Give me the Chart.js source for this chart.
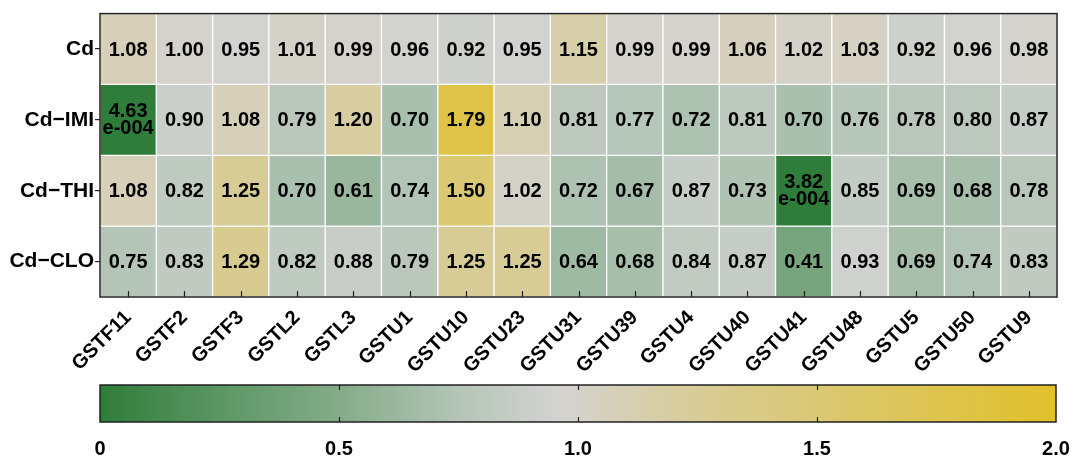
<!DOCTYPE html>
<html>
<head>
<meta charset="utf-8">
<script src="https://cdn.jsdelivr.net/npm/chart.js@4.4.1/dist/chart.umd.min.js"></script>
<style>
  html, body { margin: 0; padding: 0; background: #fff; }
  #wrap { position: relative; width: 1077px; height: 466px; }
  #heat { position: absolute; left: 0; top: 0; }
  #bar  { position: absolute; left: 0; top: 380px; }
</style>
</head>
<body>
<div id="wrap">
  <canvas id="heat" width="1077" height="380"></canvas>
  <canvas id="bar" width="1077" height="86"></canvas>
</div>
<script>
// Genes along the x axis
const genes = ['GSTF11','GSTF2','GSTF3','GSTL2','GSTL3','GSTU1','GSTU10','GSTU23','GSTU31',
               'GSTU39','GSTU4','GSTU40','GSTU41','GSTU48','GSTU5','GSTU50','GSTU9'];
// Treatments, top to bottom
const treatments = ['Cd', 'Cd\u2212IMI', 'Cd\u2212THI', 'Cd\u2212CLO'];
// Relative expression per treatment
const cdValues  = [1.08, 1.00, 0.95, 1.01, 0.99, 0.96, 0.92, 0.95, 1.15, 0.99, 0.99, 1.06, 1.02, 1.03, 0.92, 0.96, 0.98];
const imiValues = [4.63e-4, 0.90, 1.08, 0.79, 1.20, 0.70, 1.79, 1.10, 0.81, 0.77, 0.72, 0.81, 0.70, 0.76, 0.78, 0.80, 0.87];
const thiValues = [1.08, 0.82, 1.25, 0.70, 0.61, 0.74, 1.50, 1.02, 0.72, 0.67, 0.87, 0.73, 3.82e-4, 0.85, 0.69, 0.68, 0.78];
const cloValues = [0.75, 0.83, 1.29, 0.82, 0.88, 0.79, 1.25, 1.25, 0.64, 0.68, 0.84, 0.87, 0.41, 0.93, 0.69, 0.74, 0.83];
const seriesValues = [cdValues, imiValues, thiValues, cloValues];
// Colour bar range and ticks
const scaleMin = 0;
const scaleMax = 2;
const colorbarTicks = [0, 0.5, 1.0, 1.5, 2.0];

// Colour map: green -> light grey -> yellow
const colorStops = [
  [0.00, [46, 125, 58]],
  [0.25, [92, 150, 100]],
  [0.50, [132, 172, 137]],
  [0.75, [180, 197, 183]],
  [0.95, [210, 210, 208]],
  [1.00, [212, 210, 202]],
  [1.10, [214, 207, 180]],
  [1.25, [216, 204, 150]],
  [1.50, [218, 200, 115]],
  [1.75, [221, 196, 78]],
  [2.00, [225, 192, 42]]
];
function colorFor(v) {
  v = Math.max(scaleMin, Math.min(scaleMax, v));
  for (let i = 1; i < colorStops.length; i++) {
    const [v1, c1] = colorStops[i];
    const [v0, c0] = colorStops[i - 1];
    if (v <= v1) {
      const t = (v - v0) / (v1 - v0);
      const c = c0.map((a, k) => Math.round(a + (c1[k] - a) * t));
      return `rgb(${c[0]},${c[1]},${c[2]})`;
    }
  }
  const c = colorStops[colorStops.length - 1][1];
  return `rgb(${c[0]},${c[1]},${c[2]})`;
}

function formatValue(v) {
  if (v < 0.01) {
    const [m, e] = v.toExponential(2).split('e');
    const exp = parseInt(e, 10);
    return [m, 'e' + (exp < 0 ? '-' : '+') + String(Math.abs(exp)).padStart(3, '0')];
  }
  return [v.toFixed(2)];
}

const FONT = "'Liberation Sans', Arial, Helvetica, sans-serif";

// Frame, inward x ticks and cell value labels
const heatDecor = {
  id: 'heatDecor',
  afterDatasetsDraw(chart) {
    const ctx = chart.ctx;
    const area = chart.chartArea;
    const xs = chart.scales.x;
    ctx.save();
    // cell labels
    ctx.fillStyle = '#000';
    ctx.textAlign = 'center';
    ctx.textBaseline = 'middle';
    ctx.font = `bold 20px ${FONT}`;
    chart.data.datasets.forEach((ds, di) => {
      const meta = chart.getDatasetMeta(di);
      meta.data.forEach((el, i) => {
        const cx = el.x;
        const cy = (el.y + el.base) / 2;
        const lines = formatValue(seriesValues[di][i]);
        if (lines.length === 1) {
          ctx.fillText(lines[0], cx, cy + 1);
        } else {
          ctx.fillText(lines[0], cx, cy - 8);
          ctx.fillText(lines[1], cx, cy + 9);
        }
      });
    });
    // inward tick marks on the bottom axis
    ctx.strokeStyle = '#222';
    ctx.lineWidth = 1.2;
    genes.forEach((g, i) => {
      const x = Math.round(xs.getPixelForValue(i)) + 0.5;
      ctx.beginPath();
      ctx.moveTo(x, area.bottom);
      ctx.lineTo(x, area.bottom - 6);
      ctx.stroke();
    });
    // frame
    ctx.strokeStyle = '#222';
    ctx.lineWidth = 1.5;
    ctx.strokeRect(area.left, area.top, area.right - area.left, area.bottom - area.top);
    ctx.restore();
  }
};

new Chart(document.getElementById('heat'), {
  type: 'bar',
  data: {
    labels: genes,
    datasets: treatments.map((t, r) => ({
      label: t,
      data: genes.map(() => [r, r + 1]),
      backgroundColor: seriesValues[r].map(colorFor),
      borderColor: '#ffffff',
      borderWidth: 1,
      borderSkipped: false,
      grouped: false,
      barPercentage: 1,
      categoryPercentage: 1
    }))
  },
  options: {
    responsive: false,
    animation: false,
    events: [],
    layout: { padding: { top: 10, right: 20, left: 0, bottom: 0 } },
    plugins: { legend: { display: false }, tooltip: { enabled: false } },
    scales: {
      x: {
        type: 'category',
        offset: true,
        grid: { display: false, drawTicks: false },
        border: { display: false },
        ticks: {
          color: '#000',
          font: { family: FONT, size: 20, weight: 'bold' },
          maxRotation: 45, minRotation: 45,
          autoSkip: false,
          padding: 9
        },
        afterFit(scale) { scale.height = 83; }
      },
      y: {
        type: 'linear',
        min: 0, max: treatments.length,
        reverse: true,
        afterBuildTicks(scale) {
          scale.ticks = treatments.map((t, i) => ({ value: i + 0.5 }));
        },
        grid: { drawOnChartArea: false, drawTicks: true, tickLength: 5, color: '#222', lineWidth: 1.2 },
        border: { display: false },
        ticks: {
          color: '#000',
          font: { family: FONT, size: 21, weight: 'bold' },
          padding: 1,
          callback: (v, i) => treatments[i]
        },
        afterFit(scale) { scale.width = 100; }
      }
    }
  },
  plugins: [heatDecor]
});

// Colour bar
const barDecor = {
  id: 'barDecor',
  afterDatasetsDraw(chart) {
    const ctx = chart.ctx;
    const area = chart.chartArea;
    const xs = chart.scales.x;
    ctx.save();
    ctx.strokeStyle = '#222';
    ctx.lineWidth = 1.2;
    colorbarTicks.slice(1, -1).forEach(v => {
      const x = Math.round(xs.getPixelForValue(v)) + 0.5;
      ctx.beginPath();
      ctx.moveTo(x, area.top); ctx.lineTo(x, area.top + 5);
      ctx.moveTo(x, area.bottom); ctx.lineTo(x, area.bottom - 5);
      ctx.stroke();
    });
    ctx.lineWidth = 1.5;
    ctx.strokeRect(area.left, area.top, area.right - area.left, area.bottom - area.top);
    ctx.restore();
  }
};

new Chart(document.getElementById('bar'), {
  type: 'bar',
  data: {
    labels: ['scale'],
    datasets: [{
      data: [[scaleMin, scaleMax]],
      backgroundColor(context) {
        const chart = context.chart;
        const area = chart.chartArea;
        if (!area) return '#ccc';
        const g = chart.ctx.createLinearGradient(area.left, 0, area.right, 0);
        colorStops.forEach(([v]) => g.addColorStop((v - scaleMin) / (scaleMax - scaleMin), colorFor(v)));
        return g;
      },
      borderWidth: 0,
      barPercentage: 1,
      categoryPercentage: 1
    }]
  },
  options: {
    indexAxis: 'y',
    responsive: false,
    animation: false,
    events: [],
    layout: { padding: { top: 5, left: 100, right: 21, bottom: 0 } },
    plugins: { legend: { display: false }, tooltip: { enabled: false } },
    scales: {
      x: {
        type: 'linear',
        min: scaleMin, max: scaleMax,
        afterBuildTicks(scale) {
          scale.ticks = colorbarTicks.map(v => ({ value: v }));
        },
        grid: { display: false, drawTicks: false },
        border: { display: false },
        ticks: {
          color: '#000',
          font: { family: FONT, size: 20, weight: 'bold' },
          padding: 15,
          maxRotation: 0,
          callback: v => (v === 0 ? '0' : v.toFixed(1))
        },
        afterFit(scale) {
          scale.height = 44;
          scale.paddingLeft = 0;
          scale.paddingRight = 0;
        }
      },
      y: { display: false }
    }
  },
  plugins: [barDecor]
});
</script>
</body>
</html>
